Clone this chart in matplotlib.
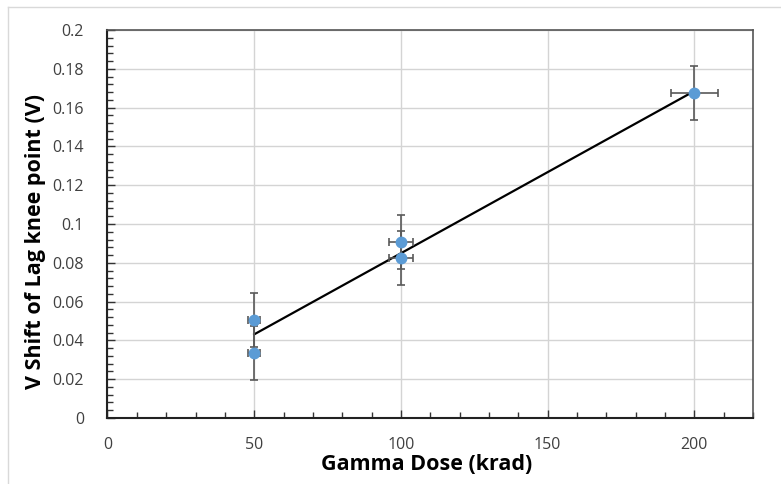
import numpy as np
import matplotlib.pyplot as plt
from matplotlib.ticker import MultipleLocator, FuncFormatter
from matplotlib.lines import Line2D

plt.rcParams['font.family'] = ['Open Sans', 'DejaVu Sans']

# measured points
dose = [50, 50, 100, 100, 200]
v_shift = [0.0505, 0.0335, 0.0906, 0.0826, 0.1674]
dose_err = [2, 2, 4, 4, 8]
v_err = [0.014, 0.014, 0.014, 0.014, 0.014]

fig = plt.figure(figsize=(7.81, 4.84), dpi=100)
ax = fig.add_axes([107.5 / 781, 1 - 418 / 484, (753 - 107.5) / 781, (418 - 30) / 484])

# light frame around the picture
fig.add_artist(Line2D([8 / 781, 1], [1 - 7 / 484, 1 - 7 / 484], color='#d9d9d9', lw=1))
fig.add_artist(Line2D([8 / 781, 8 / 781], [0, 1 - 7 / 484], color='#d9d9d9', lw=1))

# linear trend line
slope, intercept = np.polyfit(dose, v_shift, 1)
xfit = np.array([min(dose), max(dose)])
ax.plot(xfit, slope * xfit + intercept, color='black', lw=1.6, zorder=2)

ax.errorbar(dose, v_shift, xerr=dose_err, yerr=v_err, fmt='o', color='#5b9bd5',
            markersize=7.5, ecolor='#595959', elinewidth=1.2, capsize=3,
            capthick=1.2, zorder=3)

ax.set_xlim(0, 220)
ax.set_ylim(0, 0.2)
ax.xaxis.set_major_locator(MultipleLocator(50))
ax.xaxis.set_minor_locator(MultipleLocator(10))
ax.yaxis.set_major_locator(MultipleLocator(0.02))
ax.yaxis.set_minor_locator(MultipleLocator(0.004))
ax.yaxis.set_major_formatter(FuncFormatter(lambda v, p: '0' if abs(v) < 1e-9 else ('%.2f' % v).rstrip('0')))

ax.grid(True, which='major', color='#d4d4d4', lw=1)
ax.set_axisbelow(True)
ax.tick_params(which='both', direction='in', colors='#333333', labelcolor='#404040', labelsize=11.5)
ax.tick_params(which='major', length=6, width=1)
ax.tick_params(which='minor', length=4, width=1)
ax.tick_params(axis='x', which='major', pad=14)
ax.tick_params(axis='y', which='major', pad=17)

for s in ['left', 'bottom']:
    ax.spines[s].set_color('#222222')
    ax.spines[s].set_linewidth(1.5)
for s in ['top', 'right']:
    ax.spines[s].set_color('#555555')
    ax.spines[s].set_linewidth(1.2)

ax.set_xlabel('Gamma Dose (krad)', fontsize=15.5, fontweight='bold', va='center')
ax.set_ylabel('V Shift of Lag knee point (V)', fontsize=15.5, fontweight='bold', va='center')
ax.xaxis.set_label_coords(0.495, -0.12)
ax.yaxis.set_label_coords(-0.112, 0.454)

fig.savefig('out.png', dpi=100)
